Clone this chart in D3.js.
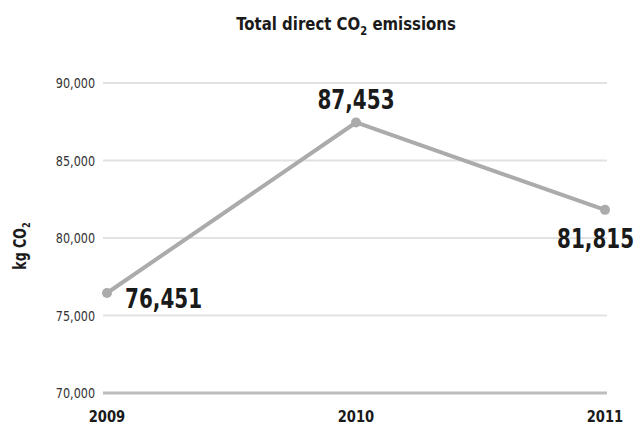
<!DOCTYPE html>
<html><head><meta charset="utf-8">
<script src="https://cdn.jsdelivr.net/npm/d3@7/dist/d3.min.js"></script>
<style>
body{margin:0;background:#fff;}
text{font-family:"DejaVu Sans","Liberation Sans",sans-serif;}
</style></head>
<body><svg id="c" width="635" height="428"></svg>
<script>
const years = ["2009","2010","2011"];
const values = [76451, 87453, 81815];
const yTicks = [70000,75000,80000,85000,90000];

const svg = d3.select("#c");
const x = d3.scalePoint().domain(years).range([107,605]);
const y = d3.scaleLinear().domain([70000,90000]).range([393,83]);
const fmt = d3.format(",");
const SB = 0.74, SR = 0.8; // horizontal condensing for bold / regular

// gridlines
svg.append("g").selectAll("line").data(yTicks).join("line")
  .attr("x1",103).attr("x2",607)
  .attr("y1",d=>y(d)).attr("y2",d=>y(d))
  .attr("stroke",d=>d===70000?"#bdbdbd":"#e2e2e2")
  .attr("stroke-width",d=>d===70000?3:2);

// y tick labels
svg.append("g").selectAll("text").data(yTicks).join("text")
  .attr("transform",d=>`translate(95,${y(d)+5}) scale(${SR},1)`)
  .attr("text-anchor","end").attr("font-size",14).attr("fill","#333")
  .text(d=>fmt(d));

// x labels
svg.append("g").selectAll("text").data(years).join("text")
  .attr("transform",d=>`translate(${x(d)},422) scale(0.82,1)`)
  .attr("text-anchor","middle").attr("font-size",16).attr("font-weight","bold").attr("fill","#1a1a1a")
  .text(d=>d);

// line
const data = years.map((yr,i)=>({yr,v:values[i]}));
svg.append("path").datum(data)
  .attr("d",d3.line().x(d=>x(d.yr)).y(d=>y(d.v)))
  .attr("fill","none").attr("stroke","#ababab").attr("stroke-width",4).attr("stroke-linejoin","round");
svg.append("g").selectAll("circle").data(data).join("circle")
  .attr("cx",d=>x(d.yr)).attr("cy",d=>y(d.v)).attr("r",5).attr("fill","#ababab");

// value labels
const lblDx = [18,0,-48], lblDy = [15,-13,38], lblAnchor=["start","middle","start"];
svg.append("g").selectAll("text").data(data).join("text")
  .attr("transform",(d,i)=>`translate(${x(d.yr)+lblDx[i]},${y(d.v)+lblDy[i]}) scale(${SB},1)`)
  .attr("text-anchor",(d,i)=>lblAnchor[i])
  .attr("font-size",27).attr("font-weight","bold").attr("fill","#1a1a1a")
  .text(d=>fmt(d.v));

// title
const t = svg.append("text").attr("transform",`translate(346,30) scale(0.83,1)`).attr("text-anchor","middle")
  .attr("font-size",18).attr("font-weight","bold").attr("fill","#1a1a1a");
t.append("tspan").text("Total direct CO");
t.append("tspan").attr("font-size",12).attr("dy",5).text("2");
t.append("tspan").attr("dy",-5).text(" emissions");

// y axis label
const ya = svg.append("text").attr("transform",`translate(26,246) rotate(-90) scale(${SB},1)`)
  .attr("text-anchor","middle").attr("font-size",17).attr("font-weight","bold").attr("fill","#1a1a1a");
ya.append("tspan").text("kg CO");
ya.append("tspan").attr("font-size",11).attr("dy",4).text("2");
</script></body></html>
